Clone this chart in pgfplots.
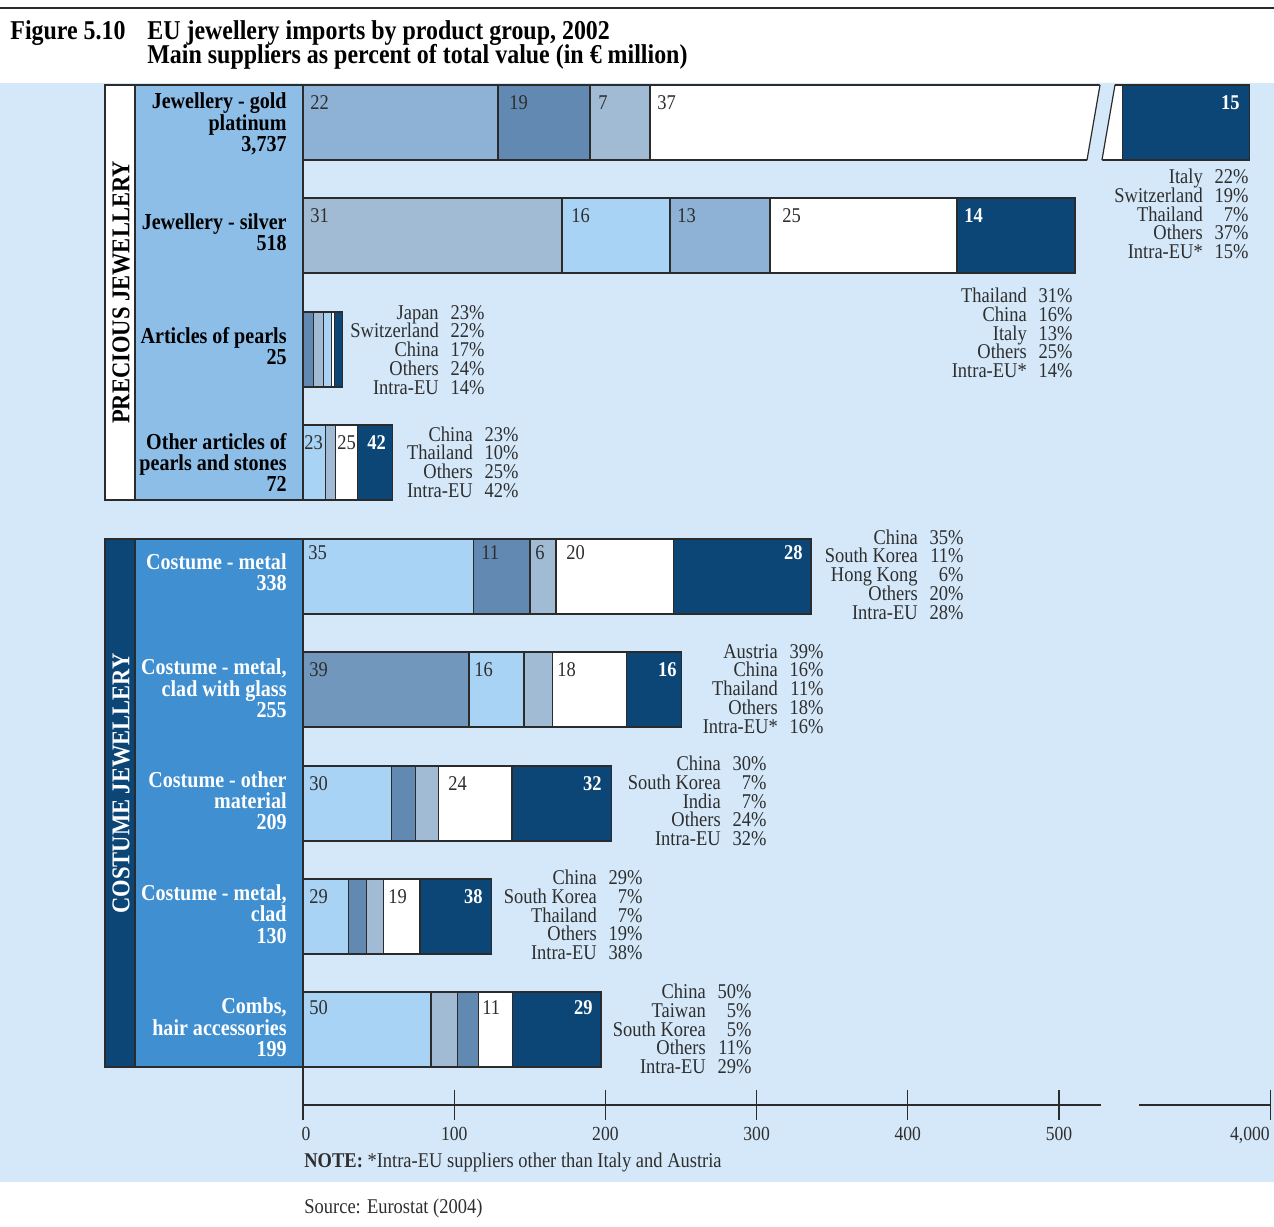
\documentclass[border=0pt]{standalone}
\usepackage{fontspec}
\setmainfont{Liberation Serif}[FakeStretch=0.88]
\usepackage{pgfplots}
\pgfplotsset{compat=1.18}

\definecolor{bg}{HTML}{D4E8F9}
\definecolor{cLight}{HTML}{A9D3F5}
\definecolor{cSteel}{HTML}{6189B1}
\definecolor{cAus}{HTML}{7197BD}
\definecolor{cItaly}{HTML}{8DB2D6}
\definecolor{cGrey}{HTML}{A1BBD4}
\definecolor{cNavy}{HTML}{0B4677}
\definecolor{panelP}{HTML}{8DBEE8}
\definecolor{panelC}{HTML}{3F8FD1}
\definecolor{edge}{HTML}{2B2B2B}
\definecolor{txt}{HTML}{2E2E2E}

\newcommand{\sm}{\fontsize{10.5}{9.375}\selectfont}
\newcommand{\lb}{\fontsize{11.4}{10.65}\selectfont\bfseries}
% one stacked segment: drawn from 0 to its cumulative end (longest first)
\newcommand{\seg}[3]{\addplot[xbar, bar width=75, bar shift=0pt, fill=#1, draw=edge, line width=0.6pt, forget plot] coordinates {(#2,#3)};}
\newcommand{\rw}[2]{\smash{#1} & \smash{#2}\\}
\newcommand{\blk}[3]{\node[anchor=east, inner sep=0pt, text=txt, font=\sm] at (#1,#2) {\begin{tabular}{@{}r@{\hspace{6pt}}r@{}}#3\end{tabular}};}
\newcommand{\nb}[3]{\node[anchor=base west, inner sep=0pt, text=txt, font=\sm] at (#1,#2) {#3};}
\newcommand{\nw}[3]{\node[anchor=base east, inner sep=0pt, text=white, font=\sm\bfseries] at (#1,#2) {#3};}
\newcommand{\nwl}[3]{\node[anchor=base west, inner sep=0pt, text=white, font=\sm\bfseries] at (#1,#2) {#3};}
\newcommand{\lbl}[3]{\node[anchor=base east, inner sep=0pt, text=#3, font=\lb] at (287,#1) {#2};}

\begin{document}
\begin{tikzpicture}
% ---------- background and panels (pixel grid) ----------
\begin{scope}[x=0.5pt, y=-0.5pt, yshift=613pt]
\fill[white] (0,0) rectangle (1274,1226);
\fill[bg] (0,83) rectangle (1274,1182);
\draw[edge, line width=1pt] (0,8) -- (1274,8);
\filldraw[fill=panelP, draw=edge, line width=0.6pt] (105,85) rectangle (303,500);
\filldraw[fill=white, draw=edge, line width=0.6pt] (105,85) rectangle (135,500);
\filldraw[fill=panelC, draw=edge, line width=0.6pt] (105,539) rectangle (303,1067);
\filldraw[fill=cNavy, draw=edge, line width=0.6pt] (105,539) rectangle (135,1067);
\end{scope}

\begin{axis}[at={(0,0)}, anchor=south west, scale only axis,
  width=637pt, height=613pt,
  xmin=-200.397, xmax=642.196, ymin=0, ymax=1226, y dir=reverse,
  hide axis, clip=false]
% Jewellery - gold platinum (broken bar)
\seg{cNavy}{626.0}{122.5}
\seg{white}{542.1}{122.5}
\addplot[fill=bg, draw=none, forget plot] coordinates {(527.1,83) (537.0,83) (528.4,162) (518.5,162)} -- cycle;
\addplot[draw=edge, line width=0.6pt, forget plot] coordinates {(527.1,85) (518.5,160)};
\addplot[draw=edge, line width=0.6pt, forget plot] coordinates {(537.0,85) (528.4,160)};
\seg{cGrey}{229.5}{122.5}
\seg{cSteel}{189.8}{122.5}
\seg{cItaly}{129.0}{122.5}
% Jewellery - silver
\seg{cNavy}{510.6}{235.5}
\seg{white}{432.5}{235.5}
\seg{cItaly}{308.9}{235.5}
\seg{cLight}{242.7}{235.5}
\seg{cGrey}{171.3}{235.5}
% Articles of pearls
\seg{cNavy}{26.3}{349.5}
\seg{white}{20.7}{349.5}
\seg{cLight}{19.0}{349.5}
\seg{cGrey}{13.4}{349.5}
\seg{cSteel}{6.8}{349.5}
% Other articles of pearls and stones
\seg{cNavy}{59.1}{462.5}
\seg{white}{36.1}{462.5}
\seg{cGrey}{21.4}{462.5}
\seg{cLight}{14.9}{462.5}
% Costume - metal
\seg{cNavy}{336.0}{576.5}
\seg{white}{244.9}{576.5}
\seg{cGrey}{167.3}{576.5}
\seg{cSteel}{150.1}{576.5}
\seg{cLight}{112.6}{576.5}
% Costume - metal, clad with glass
\seg{cNavy}{250.5}{689.5}
\seg{white}{214.1}{689.5}
\seg{cGrey}{164.9}{689.5}
\seg{cLight}{146.2}{689.5}
\seg{cAus}{109.8}{689.5}
% Costume - other material
\seg{cNavy}{204.2}{803.5}
\seg{white}{138.2}{803.5}
\seg{cGrey}{89.5}{803.5}
\seg{cSteel}{74.5}{803.5}
\seg{cLight}{58.7}{803.5}
% Costume - metal, clad
\seg{cNavy}{124.8}{916.5}
\seg{white}{77.4}{916.5}
\seg{cGrey}{53.1}{916.5}
\seg{cSteel}{42.1}{916.5}
\seg{cLight}{30.0}{916.5}
% Combs, hair accessories
\seg{cNavy}{197.1}{1029.5}
\seg{white}{138.7}{1029.5}
\seg{cSteel}{115.9}{1029.5}
\seg{cGrey}{102.1}{1029.5}
\seg{cLight}{84.7}{1029.5}
% x axis with break
\draw[edge, line width=0.7pt] (axis cs:0,1105) -- (axis cs:527.8,1105);
\draw[edge, line width=0.7pt] (axis cs:552.9,1105) -- (axis cs:639.6,1105);
\draw[edge, line width=0.6pt] (axis cs:0,1067) -- (axis cs:0,1120);
\pgfplotsinvokeforeach{100,200,300,400,500}{
  \draw[edge, line width=0.6pt] (axis cs:#1,1090) -- (axis cs:#1,1120);
  \node[anchor=base, inner sep=0pt, text=txt, font=\fontsize{10}{12}\selectfont] at (axis cs:#1,1140) {#1};
}
\draw[edge, line width=0.6pt] (axis cs:639.6,1090) -- (axis cs:639.6,1120);
\node[anchor=base, inner sep=0pt, text=txt, font=\fontsize{10}{12}\selectfont] at (axis cs:2,1140) {0};
\node[anchor=base east, inner sep=0pt, text=txt, font=\fontsize{10}{12}\selectfont] at (axis cs:639.6,1140) {4,000};
\end{axis}

% ---------- texts (pixel grid) ----------
\begin{scope}[x=0.5pt, y=-0.5pt, yshift=613pt]
\node[anchor=base west, inner sep=0pt, font=\fontsize{13.6}{15}\selectfont\bfseries] at (10,40) {Figure 5.10};
\node[anchor=base west, inner sep=0pt, font=\fontsize{13.6}{15}\selectfont\bfseries] at (147,40) {EU jewellery imports by product group, 2002};
\node[anchor=base west, inner sep=0pt, font=\fontsize{13.6}{15}\selectfont\bfseries] at (147,64) {Main suppliers as percent of total value (in € million)};

\node[rotate=90, inner sep=0pt, font=\fontsize{12.8}{14}\selectfont\bfseries, text=black] at (121,292.5) {PRECIOUS JEWELLERY};
\node[rotate=90, inner sep=0pt, font=\fontsize{12.8}{14}\selectfont\bfseries, text=white] at (121,783.5) {COSTUME JEWELLERY};

% category labels
\lbl{109}{Jewellery - gold}{black}\lbl{131}{platinum}{black}\lbl{152}{3,737}{black}
\lbl{230}{Jewellery - silver}{black}\lbl{251}{518}{black}
\lbl{344}{Articles of pearls}{black}\lbl{365}{25}{black}
\lbl{450}{Other articles of}{black}\lbl{471}{pearls and stones}{black}\lbl{492}{72}{black}
\lbl{570}{Costume - metal}{white}\lbl{591}{338}{white}
\lbl{675}{Costume - metal,}{white}\lbl{697}{clad with glass}{white}\lbl{718}{255}{white}
\lbl{788}{Costume - other}{white}\lbl{809}{material}{white}\lbl{830}{209}{white}
\lbl{901}{Costume - metal,}{white}\lbl{922}{clad}{white}\lbl{944}{130}{white}
\lbl{1014}{Combs,}{white}\lbl{1036}{hair accessories}{white}\lbl{1057}{199}{white}

% numbers inside bars
\nb{310}{110}{22}\nb{509}{110}{19}\nb{598}{110}{7}\nb{657}{110}{37}\nw{1240}{110}{15}
\nb{310}{223}{31}\nb{571}{223}{16}\nb{677}{223}{13}\nb{782}{223}{25}\nwl{964}{223}{14}
\nb{304}{450}{23}\nb{337}{450}{25}\nwl{367}{450}{42}
\nb{308}{560}{35}\nb{481}{560}{11}\nb{535}{560}{6}\nb{566}{560}{20}\nw{803}{560}{28}
\nb{309}{677}{39}\nb{474}{677}{16}\nb{557}{677}{18}\nw{677}{677}{16}
\nb{309}{791}{30}\nb{448}{791}{24}\nw{602}{791}{32}
\nb{309}{904}{29}\nb{388}{904}{19}\nw{483}{904}{38}
\nb{309}{1015}{50}\nb{482}{1015}{11}\nw{593}{1015}{29}

% supplier lists
\blk{1249}{217.5}{\rw{Italy}{22\%}\rw{Switzerland}{19\%}\rw{Thailand}{7\%}\rw{Others}{37\%}\rw{Intra-EU*}{15\%}}
\blk{1073}{336.5}{\rw{Thailand}{31\%}\rw{China}{16\%}\rw{Italy}{13\%}\rw{Others}{25\%}\rw{Intra-EU*}{14\%}}
\blk{485}{353}{\rw{Japan}{23\%}\rw{Switzerland}{22\%}\rw{China}{17\%}\rw{Others}{24\%}\rw{Intra-EU}{14\%}}
\blk{519}{465.5}{\rw{China}{23\%}\rw{Thailand}{10\%}\rw{Others}{25\%}\rw{Intra-EU}{42\%}}
\blk{964}{578}{\rw{China}{35\%}\rw{South Korea}{11\%}\rw{Hong Kong}{6\%}\rw{Others}{20\%}\rw{Intra-EU}{28\%}}
\blk{824}{692}{\rw{Austria}{39\%}\rw{China}{16\%}\rw{Thailand}{11\%}\rw{Others}{18\%}\rw{Intra-EU*}{16\%}}
\blk{767}{804.5}{\rw{China}{30\%}\rw{South Korea}{7\%}\rw{India}{7\%}\rw{Others}{24\%}\rw{Intra-EU}{32\%}}
\blk{643}{918.5}{\rw{China}{29\%}\rw{South Korea}{7\%}\rw{Thailand}{7\%}\rw{Others}{19\%}\rw{Intra-EU}{38\%}}
\blk{752}{1032.5}{\rw{China}{50\%}\rw{Taiwan}{5\%}\rw{South Korea}{5\%}\rw{Others}{11\%}\rw{Intra-EU}{29\%}}

\node[anchor=base west, inner sep=0pt, text=txt, font=\sm] at (304,1168) {\textbf{NOTE:} *Intra-EU suppliers other than Italy and Austria};
\node[anchor=base west, inner sep=0pt, text=txt, font=\sm] at (304,1214) {Source: Eurostat (2004)};
\end{scope}
\pgfresetboundingbox
\path (0,0) rectangle (637pt,613pt);
\end{tikzpicture}
\end{document}
